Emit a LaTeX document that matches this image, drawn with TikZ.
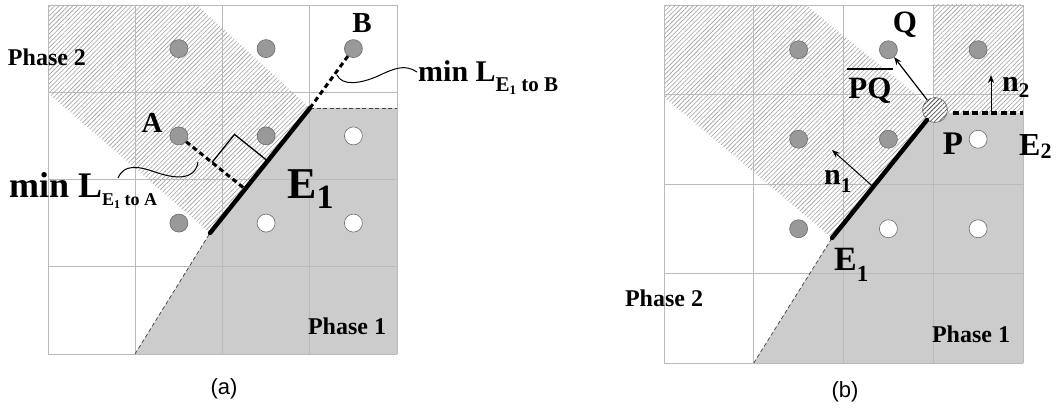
\documentclass[tikz,border=0pt]{standalone}
\usepackage{fontspec}
\setmainfont{Liberation Serif}
\setsansfont{Liberation Sans}
\usetikzlibrary{patterns,patterns.meta,arrows.meta,calc}
\definecolor{pone}{gray}{0.8}
\definecolor{cgray}{gray}{0.6}
\definecolor{cedge}{gray}{0.42}
\definecolor{hatchc}{gray}{0.62}
\newcommand{\fs}[1]{\fontsize{#1}{#1}\selectfont}
\tikzset{
 gridl/.style={black!27, line width=0.8pt},
 gc/.style={circle, minimum size=18pt, inner sep=0pt, fill=cgray, draw=cedge, line width=0.6pt},
 wc/.style={circle, minimum size=18pt, inner sep=0pt, fill=white, draw=cedge, line width=0.6pt},
 hatch/.style={pattern={Lines[angle=45, distance=3.2pt, line width=0.6pt]}, pattern color=hatchc},
 edgeline/.style={line width=4.5pt, line cap=round},
 thinDash/.style={black!75, line width=0.7pt, dash pattern=on 4pt off 2.5pt},
 fatDash/.style={line width=3pt, dash pattern=on 5pt off 3.5pt},
 lbl/.style={font=\bfseries, inner sep=0pt},
 wave/.style={line width=1pt},
 arr/.style={line width=1.2pt, -{Stealth[length=8pt,width=6pt]}},
 caption/.style={font=\sffamily\fs{22}, inner sep=0pt},
}
\begin{document}
\begin{tikzpicture}[x=1pt,y=-1pt]
\useasboundingbox (0,0) rectangle (1058,409);
% ===================== (a) =====================
\fill[pone] (135,354) -- (210,233) -- (310,108) -- (397,108) -- (397,354) -- cycle;
\fill[hatch] (48,5) -- (197,5) -- (310,108) -- (210,233) -- (48,93) -- cycle;
\foreach \x in {48,135.25,222.5,309.75,397} \draw[gridl] (\x,5) -- (\x,354);
\foreach \y in {5,92.25,179.5,266.75,354} \draw[gridl] (48,\y) -- (397,\y);
\node[gc] (a21) at (178.9,48.6) {};
\node[gc] (a31) at (266.1,48.6) {};
\node[gc] (aB) at (353.4,48.6) {};
\node[gc] (aA) at (178.9,135.9) {};
\node[gc] (a32) at (266.1,135.9) {};
\node[wc] (a42) at (353.4,135.9) {};
\node[gc] (a23) at (178.9,223.1) {};
\node[wc] (a33) at (266.1,223.1) {};
\node[wc] (a43) at (353.4,223.1) {};
\coordinate (aE1s) at (210,233);
\coordinate (aE1e) at (310,108);
\coordinate (aBot) at (135,354);
\coordinate (aRt) at (397,108);
\coordinate (aF) at (245,189);
\coordinate (aM1) at (212,162.5);
\coordinate (aM2) at (234.5,134.4);
\coordinate (aM3) at (267.5,160.9);
\draw[thinDash] (aBot) -- (aE1s);
\draw[thinDash] (aE1e) -- (aRt);
\draw[fatDash] (aB) -- (aE1e);
\draw[fatDash] (aA) -- (aF);
\draw[line width=1.3pt] (aM1) -- (aM2) -- (aM3);
\draw[edgeline] (aE1s) -- (aE1e);
% wavy leaders
\coordinate (wA1) at (198,162);
\coordinate (wA2) at (118,178);
\draw[wave] (wA1) .. controls (195,182) and (172,178) .. (155,172) .. controls (138,166) and (124,164) .. (wA2);
\coordinate (wB1) at (337,75);
\coordinate (wB2) at (417,72);
\draw[wave] (wB1) .. controls (342,86) and (360,84) .. (378,76) .. controls (395,68) and (405,64) .. (wB2);
% labels
\node[lbl, font=\bfseries\fs{29}] (lA) at (152,123) {A};
\node[lbl, font=\bfseries\fs{29}] (lB) at (362,23) {B};
\node[lbl, anchor=base west] (lE1a) at (287,198) {\fs{44}E\raisebox{-10pt}{\fs{34}1}};
\node[lbl, anchor=base west] (lminA) at (9,197) {\fs{36}min L\raisebox{-8pt}{\fs{18}E\raisebox{-3pt}{\fs{12}1} to A}};
\node[lbl, anchor=base west] (lminB) at (418,82) {\fs{30}min L\raisebox{-10pt}{\fs{21}E\raisebox{-3pt}{\fs{13}1} to B}};
\node[lbl, font=\bfseries\fs{24}] (lp2a) at (47,57) {Phase 2};
\node[lbl, font=\bfseries\fs{24}] (lp1a) at (347,326) {Phase 1};
\node[caption] (capa) at (224,389) {(a)};
% ===================== (b) =====================
\fill[pone] (753.75,363) -- (832,238) -- (935,113) -- (1023,113) -- (1023,363) -- cycle;
\fill[hatch] (664,5) -- (806,5) -- (935,110) -- (832,238) -- (664,97) -- cycle;
\fill[hatch] (933.25,5) rectangle (1023,113);
\foreach \x in {664,753.75,843.5,933.25,1023} \draw[gridl] (\x,5) -- (\x,363);
\foreach \y in {5,94.5,184,273.5,363} \draw[gridl] (664,\y) -- (1023,\y);
\node[gc] (b21) at (798.6,49.75) {};
\node[gc] (bQ) at (888.4,49.75) {};
\node[gc] (b41) at (978.1,49.75) {};
\node[gc] (b22) at (798.6,139.25) {};
\node[gc] (b32) at (888.4,139.25) {};
\node[wc] (bP) at (978.1,139.25) {};
\node[gc] (b23) at (798.6,228.75) {};
\node[wc] (b33) at (888.4,228.75) {};
\node[wc] (b43) at (978.1,228.75) {};
\node[circle, minimum size=25pt, inner sep=0pt, preaction={fill=white}, pattern={Lines[angle=45, distance=3.2pt, line width=0.8pt]}, pattern color=gray!65!black, draw=cedge, line width=0.6pt] (P) at (935,110) {};
\coordinate (bE1s) at (832,238);
\coordinate (bBot) at (753.75,363);
\coordinate (bRt) at (1023,113);
\coordinate (bE2s) at (953,113);
\draw[thinDash] (bBot) -- (bE1s);
\draw[edgeline] (bE1s) -- (P);
\draw[line width=3.5pt, dash pattern=on 6pt off 3.5pt] (bE2s) -- (bRt);
\draw[arr] (P) -- (bQ);
\coordinate (n1t) at ($(bE1s)!0.4!(P.center)$);
\coordinate (n1h) at (832,150);
\draw[arr, line width=1pt] (n1t) -- (n1h);
\coordinate (n2t) at (991,112);
\coordinate (n2h) at (991,75);
\draw[arr, line width=1pt] (n2t) -- (n2h);
% labels
\node[lbl, font=\bfseries\fs{31}] (lQ) at (905,25) {Q};
\node[lbl, font=\bfseries\fs{31}] (lPQ) at (870,91) {PQ};
\coordinate (ol1) at (847,69);
\coordinate (ol2) at (893,69);
\draw[line width=1.3pt] (ol1) -- (ol2);
\node[lbl, font=\bfseries\fs{33}] (lP) at (953,144) {P};
\node[lbl, anchor=base west] (lE2) at (1019,156) {\fs{32}E\raisebox{-3pt}{\fs{22}2}};
\node[lbl, anchor=base west] (ln2) at (1002,92) {\fs{30}n\raisebox{-6pt}{\fs{21}2}};
\node[lbl, anchor=base west] (ln1) at (824,185) {\fs{30}n\raisebox{-8pt}{\fs{21}1}};
\node[lbl, anchor=base west] (lE1b) at (834,270) {\fs{34}E\raisebox{-11pt}{\fs{23}1}};
\node[lbl, font=\bfseries\fs{24}] (lp2b) at (664,298) {Phase 2};
\node[lbl, font=\bfseries\fs{24}] (lp1b) at (971,334) {Phase 1};
\node[caption] (capb) at (845,392) {(b)};
\end{tikzpicture}
\end{document}
